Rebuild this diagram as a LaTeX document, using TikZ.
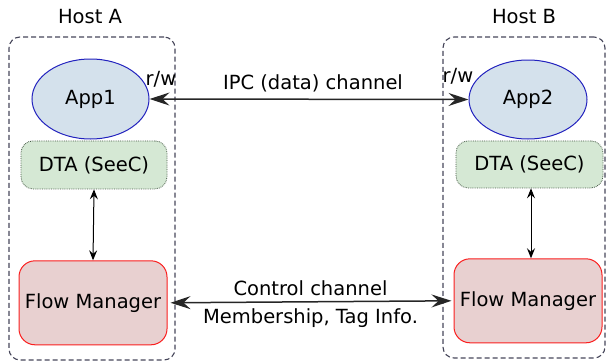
\documentclass[tikz,border=0pt]{standalone}
\usepackage{fontspec}
\setmainfont{DejaVu Sans}
\usepackage{xcolor}
\usetikzlibrary{arrows.meta,positioning,shapes.geometric}
\definecolor{appblue}{RGB}{212,225,236}
\definecolor{appedge}{RGB}{34,34,190}
\definecolor{dtagreen}{RGB}{213,232,212}
\definecolor{dtaedge}{RGB}{70,90,70}
\definecolor{fmpink}{RGB}{232,208,208}
\definecolor{fmedge}{RGB}{250,30,30}
\definecolor{hostedge}{RGB}{70,70,90}

\begin{document}
\begin{tikzpicture}[
    x=1pt, y=-1pt,
    every node/.style={font=\fontsize{19.5}{23}\selectfont},
    host/.style={
      rectangle, rounded corners=11pt, draw=hostedge, line width=1.1pt,
      dash pattern=on 5pt off 3pt, inner sep=0pt
    },
    app/.style={
      ellipse, draw=appedge, fill=appblue, line width=1pt,
      minimum width=117pt, minimum height=80pt, inner sep=0pt
    },
    dta/.style={
      rectangle, rounded corners=12pt, draw=dtaedge, densely dotted, line width=0.8pt,
      fill=dtagreen, minimum width=146pt, minimum height=48pt, inner sep=0pt
    },
    flowmgr/.style={
      rectangle, rounded corners=16pt, draw=fmedge, fill=fmpink, line width=1pt,
      minimum width=148pt, minimum height=84pt, inner sep=0pt
    },
    link/.style={Stealth-Stealth, line width=1.5pt, draw=black!85,
      arrows={[length=20pt, width=13pt, inset=7pt]}},
    stack/.style={Stealth-Stealth, line width=1pt, draw=black,
      arrows={[length=10pt, width=8pt, inset=3.5pt]}}
  ]
    \useasboundingbox (0,0) rectangle (606,364);

    % the two hosts
    \node[host, minimum width=166pt, minimum height=323pt] (hostA) at (92,198.5) {};
    \node[host, minimum width=162pt, minimum height=321pt] (hostB) at (524,197.5) {};
    \node (hostAtitle) at (90,17) {Host A};
    \node (hostBtitle) at (524,17) {Host B};

    % host A stack
    \node[app] (app1) at (90.5,99) {App1};
    \node[dta, below=1pt of app1, xshift=3.5pt] (dta1) {DTA (SeeC)};
    \node[flowmgr, below=71pt of dta1, xshift=-1pt] (fm1) {Flow Manager};

    % host B stack
    \node[app, minimum width=118pt, minimum height=79pt] (app2) at (528,99.5) {App2};
    \node[dta, minimum width=147pt, minimum height=47pt, below=1pt of app2, xshift=1.5pt] (dta2) {DTA (SeeC)};
    \node[flowmgr, below=70pt of dta2, xshift=-1.5pt] (fm2) {Flow Manager};

    \draw[stack] (dta1.south) -- (fm1.north);
    \draw[stack] ([xshift=1.5pt]dta2.south) -- ([xshift=3pt]fm2.north);

    % channels between the hosts
    \draw[link] (app1.east) -- node[above=3pt, xshift=4pt] (ipc) {IPC (data) channel} (app2.west);
    \node (rwA) at (161,79) {r/w};
    \node (rwB) at (458,76) {r/w};

    \draw[link, shorten <=3pt, shorten >=2pt] (fm1.east) -- node[above=2pt] (ctrl) {Control channel}
      node[below=3pt] (ctrlinfo) {Membership, Tag Info.} (fm2.west);
  \end{tikzpicture}
\end{document}
